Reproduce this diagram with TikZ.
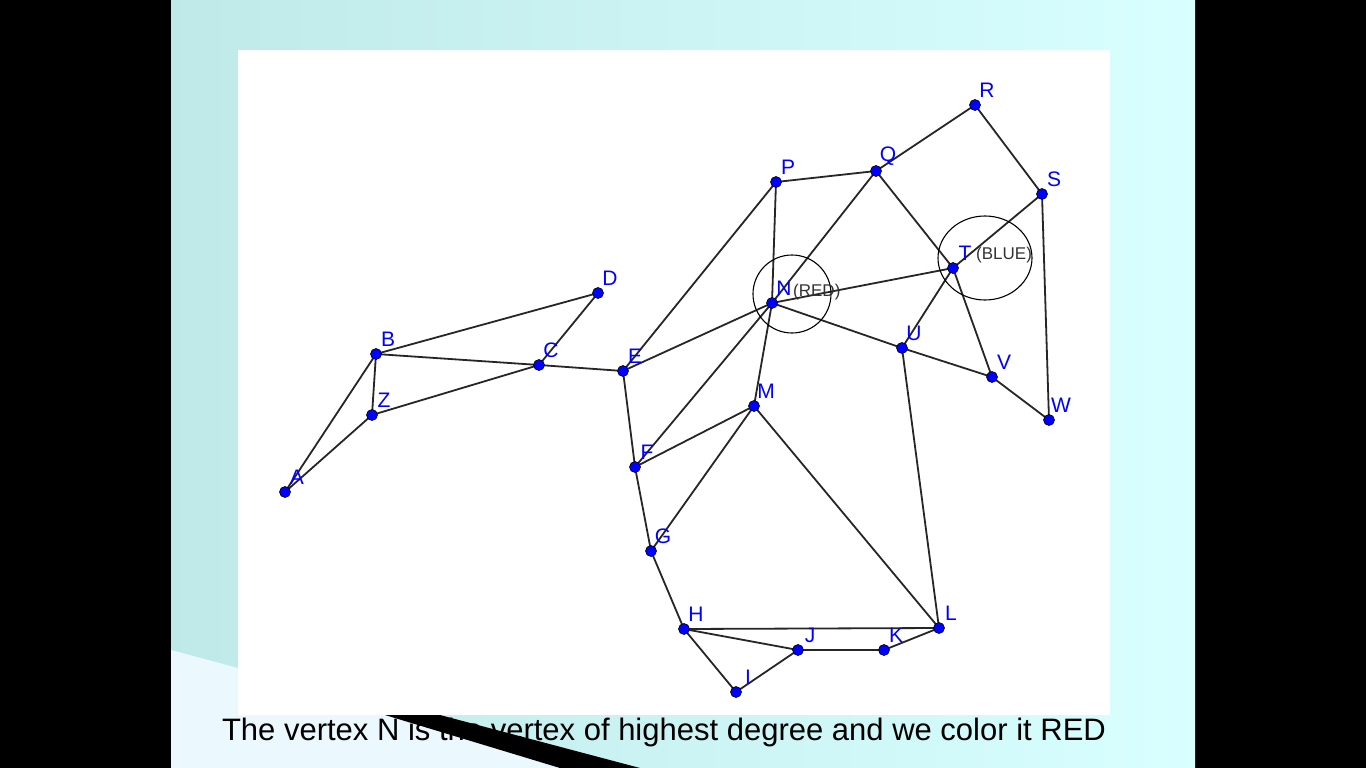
\documentclass[tikz,border=0pt]{standalone}
\usepackage{fontspec}
\setmainfont{Liberation Sans}
\begin{document}
\begin{tikzpicture}[x=1pt,y=-1pt,
  vtx/.style={circle,fill=blue,draw=black,line width=0.6pt,inner sep=0pt,minimum size=11pt},
  lab/.style={text=blue,font=\fontsize{21}{21}\selectfont,anchor=center,inner sep=0pt},
  edge/.style={line width=1.8pt,black!85}]
\useasboundingbox (0,0) rectangle (1366,768);
\fill[black] (0,0) rectangle (1366,768);
\shade[left color=cyan!30!teal!25,right color=cyan!15] (171,0) rectangle (1195,768);
\fill[cyan!8] (171,650) -- (238,668) -- (238,715) -- (400,715) -- (560,768) -- (171,768) -- cycle;
\fill[white] (238,50) rectangle (1110,715);
\fill[black] (385,715) -- (440,715) -- (640,768) -- (560,768) -- cycle;
\foreach \n/\x/\y in {A/285/492,B/376/354,Z/372/415,C/539/365,D/598/293,E/623/371,F/635/467,G/651/551,H/684/629,I/736/692,J/798/650,K/884/650,L/939/628,M/754/406,N/772/303,P/776/182,Q/876/171,R/975/105,S/1042/194,T/953/268,U/902/348,V/992/377,W/1049/420}
  \coordinate (\n) at (\x,\y);
\foreach \a/\b in {A/B,A/Z,B/Z,B/C,B/D,Z/C,C/D,C/E,E/P,E/N,E/F,F/N,F/M,F/G,G/M,G/H,H/I,H/L,H/J,I/J,J/K,K/L,L/M,L/U,M/N,N/P,N/Q,N/T,N/U,P/Q,Q/R,Q/T,T/V,R/S,S/T,S/W,T/U,U/V,V/W}
  \draw[edge] (\a) -- (\b);
\draw[line width=1.1pt] (792,294) circle (39);
\draw[line width=1.1pt] (985,258) ellipse (47 and 42);
\foreach \n in {A,B,Z,C,D,E,F,G,H,I,J,K,L,M,N,P,Q,R,S,T,U,V,W}
  \node[vtx] (v\n) at (\n) {};
\foreach \n in {A,B,Z,C,D,E,F,G,H,I,J,K,L,M,N,P,Q,R,S,T,U,V,W}
  \node[lab] (l\n) at ([xshift=12,yshift=15]\n) {\n};
\node[font=\fontsize{17}{17}\selectfont,text=black!80,anchor=west,inner sep=0pt] (red) at (793,292) {(RED)};
\node[font=\fontsize{17}{17}\selectfont,text=black!80,anchor=west,inner sep=0pt] (blue) at (976,255) {(BLUE)};
\node[font=\fontsize{31}{31}\selectfont,anchor=center,inner sep=0pt] (cap) at (664,732) {The vertex N is the vertex of highest degree and we color it RED};
\end{tikzpicture}
\end{document}
